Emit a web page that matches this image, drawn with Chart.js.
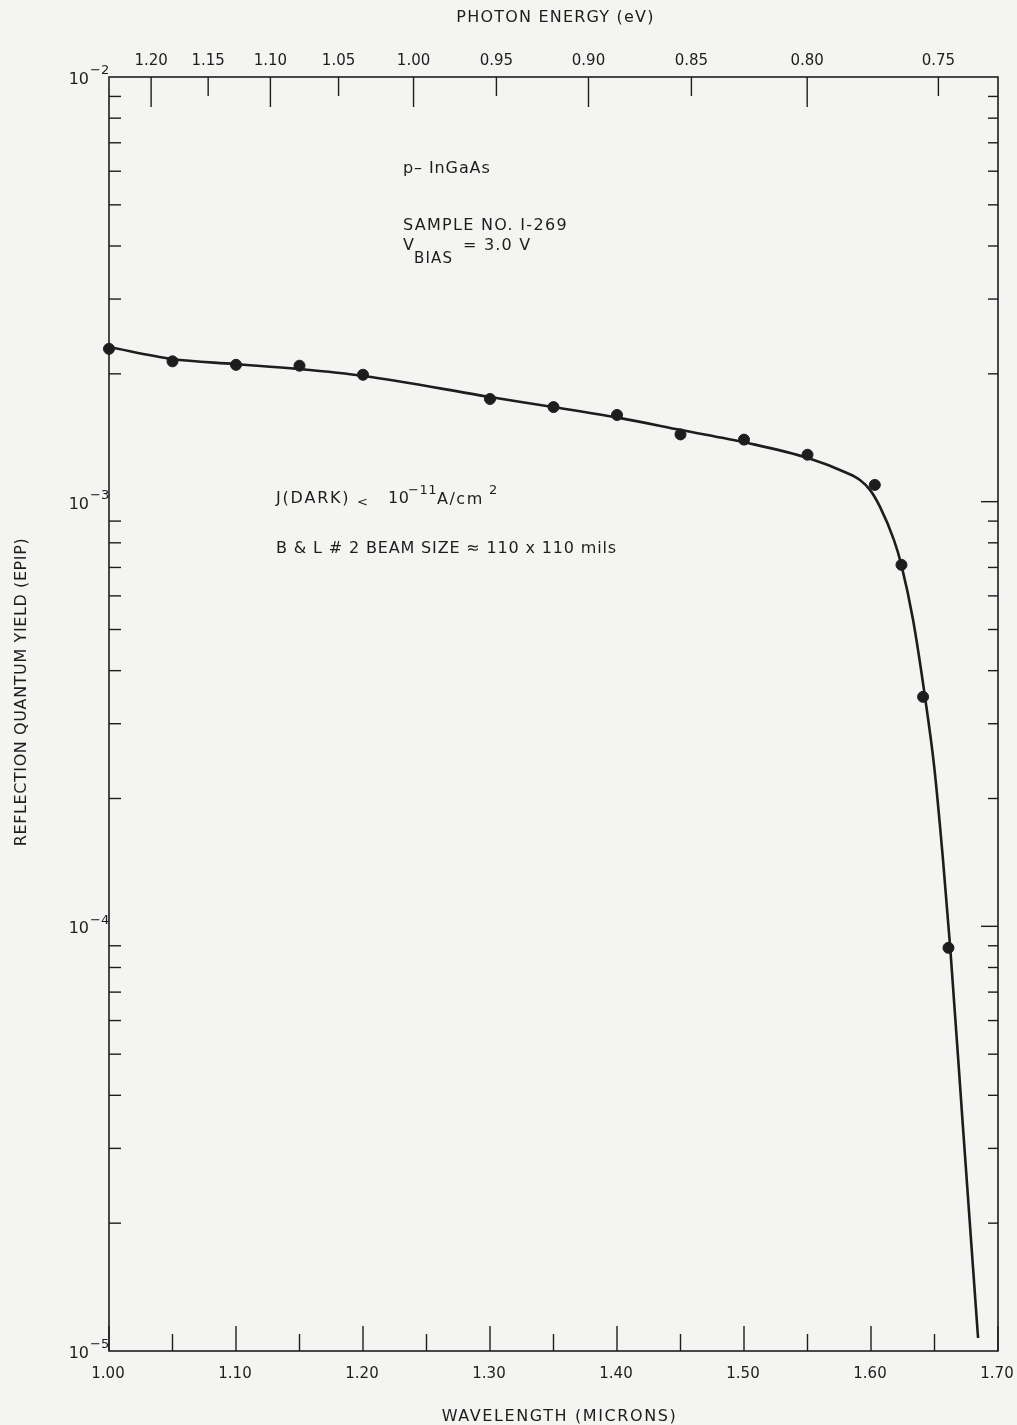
<!DOCTYPE html>
<html>
<head>
<meta charset="utf-8">
<title>Reflection Quantum Yield - p-InGaAs</title>
<script src="https://cdn.jsdelivr.net/npm/chart.js@4.4.1/dist/chart.umd.min.js"></script>
<style>
    html, body { margin: 0; padding: 0; background: #f4f4f2; }
    #grafico-wrap { width: 1017px; height: 1425px; position: relative; }
</style>
</head>
<body>
<div id="grafico-wrap"><canvas id="graficoRendimiento"></canvas></div>
<script>
// Measured points (wavelength in microns, quantum yield)
const pointWavelength = [1.00, 1.05, 1.10, 1.15, 1.20, 1.30, 1.35, 1.40, 1.45, 1.50, 1.55, 1.603, 1.624, 1.641, 1.661];
const pointYield = [2.29e-3, 2.14e-3, 2.10e-3, 2.09e-3, 1.99e-3, 1.745e-3, 1.67e-3, 1.60e-3, 1.44e-3, 1.40e-3, 1.29e-3, 1.095e-3, 7.1e-4, 3.47e-4, 8.9e-5];

// Hand drawn curve through the points
const curveWavelength = [1.000, 1.0496, 1.0984, 1.1488, 1.2008, 1.300, 1.3496, 1.4016, 1.4504, 1.5031, 1.5504, 1.5811, 1.5913, 1.5992, 1.6071, 1.6181, 1.6239, 1.6331, 1.6425, 1.6498, 1.6565, 1.6624, 1.6724, 1.6843];
const curveYield = [2.313e-3, 2.168e-3, 2.110e-3, 2.054e-3, 1.977e-3, 1.764e-3, 1.671e-3, 1.575e-3, 1.475e-3, 1.374e-3, 1.267e-3, 1.168e-3, 1.125e-3, 1.066e-3, 9.72e-4, 8.12e-4, 7.10e-4, 5.27e-4, 3.47e-4, 2.372e-4, 1.457e-4, 8.89e-5, 3.37e-5, 1.073e-5];

// Axis ticks
const wavelengthMajor = [1.00, 1.10, 1.20, 1.30, 1.40, 1.50, 1.60, 1.70];
const wavelengthMinor = [1.05, 1.15, 1.25, 1.35, 1.45, 1.55, 1.65];
const energyTicks = [1.20, 1.15, 1.10, 1.05, 1.00, 0.95, 0.90, 0.85, 0.80, 0.75];
const decadeExponents = [-2, -3, -4, -5];

const HC = 1.2398; // eV * micron
const INK = '#1d1d1d';
const FONT = '"DejaVu Sans", "Liberation Sans", sans-serif';

document.addEventListener('DOMContentLoaded', function() {
    initializeGrafico();
});

function initializeGrafico() {
    const ctx = document.getElementById('graficoRendimiento');

    new Chart(ctx, {
        type: 'line',
        data: {
            datasets: [{
                label: 'curve',
                data: curveWavelength.map((x, i) => ({ x: x, y: curveYield[i] })),
                borderColor: INK,
                borderWidth: 2.6,
                pointRadius: 0,
                cubicInterpolationMode: 'monotone',
                fill: false
            }, {
                label: 'measured',
                type: 'scatter',
                data: pointWavelength.map((x, i) => ({ x: x, y: pointYield[i] })),
                backgroundColor: INK,
                borderColor: INK,
                pointRadius: 5.5,
                clip: false
            }]
        },
        options: {
            responsive: true,
            maintainAspectRatio: false,
            animation: false,
            layout: {
                padding: { left: 109, right: 19, top: 77, bottom: 74 }
            },
            plugins: {
                legend: { display: false },
                tooltip: { enabled: false }
            },
            scales: {
                x: { type: 'linear', display: false, min: 1.0, max: 1.7 },
                y: { type: 'logarithmic', display: false, min: 1e-5, max: 1e-2 }
            }
        },
        plugins: [ejesPlugin]
    });
}

// Frame, inward ticks, labels and notes
const ejesPlugin = {
    id: 'ejes',
    afterDraw(chart) {
        const { ctx, chartArea: a, scales } = chart;
        const xs = scales.x, ys = scales.y;
        ctx.save();
        ctx.strokeStyle = INK;
        ctx.fillStyle = INK;
        ctx.lineWidth = 1.6;
        ctx.strokeRect(a.left, a.top, a.right - a.left, a.bottom - a.top);

        // bottom axis
        ctx.lineWidth = 1.4;
        wavelengthMajor.forEach(v => vTick(ctx, xs.getPixelForValue(v), a.bottom, -25));
        wavelengthMinor.forEach(v => vTick(ctx, xs.getPixelForValue(v), a.bottom, -17));
        wavelengthMajor.forEach(v => {
            text(ctx, v.toFixed(2), xs.getPixelForValue(v) - 1, a.bottom + 23, 15, 'center', 0);
        });

        // top axis (photon energy)
        energyTicks.forEach((e, i) => {
            const px = xs.getPixelForValue(HC / e);
            vTick(ctx, px, a.top, i % 2 === 0 ? 30 : 19);
            text(ctx, e.toFixed(2), px, a.top - 16, 15, 'center', 0);
        });

        // y axis ticks, both sides
        for (let d = -5; d <= -3; d++) {
            for (let m = 2; m <= 9; m++) {
                const py = ys.getPixelForValue(m * Math.pow(10, d));
                hTick(ctx, a.left, py, 12);
                hTick(ctx, a.right, py, -10);
            }
        }
        [-3, -4].forEach(d => {
            const py = ys.getPixelForValue(Math.pow(10, d));
            hTick(ctx, a.right, py, -17);
        });

        // decade labels
        decadeExponents.forEach(d => {
            const py = ys.getPixelForValue(Math.pow(10, d));
            text(ctx, '10', a.left - 20, py + 3, 16, 'right', 0);
            text(ctx, '\u2212' + Math.abs(d), a.left - 19, py - 6, 13, 'left', 0);
        });

        // axis titles
        const cx = (a.left + a.right) / 2;
        text(ctx, 'PHOTON ENERGY (eV)', cx + 2, 18, 16, 'center', 1.2);
        text(ctx, 'WAVELENGTH (MICRONS)', cx + 6, 1417, 16, 'center', 1.6);
        ctx.save();
        ctx.translate(22, 692);
        ctx.rotate(-Math.PI / 2);
        text(ctx, 'REFLECTION QUANTUM YIELD (EPIP)', 0, 0, 16, 'center', 0.6);
        ctx.restore();

        // notes
        text(ctx, 'p\u2013 InGaAs', 403, 169, 16, 'left', 0.9);
        text(ctx, 'SAMPLE NO. I-269', 403, 226, 16, 'left', 1.3);
        text(ctx, 'V', 403, 246, 16, 'left', 0);
        text(ctx, 'BIAS', 414, 259, 15, 'left', 1.2);
        text(ctx, '= 3.0 V', 463, 246, 16, 'left', 1.2);

        text(ctx, 'J(DARK)', 276, 499, 16, 'left', 1.8);
        text(ctx, '<', 357, 503, 13, 'left', 0);
        text(ctx, '10', 388, 499, 16, 'left', 0.6);
        text(ctx, '\u221211', 408, 491, 13, 'left', 0.6);
        text(ctx, 'A/cm', 437, 500, 16, 'left', 1.5);
        text(ctx, '2', 489, 491, 13, 'left', 0);
        text(ctx, 'B & L # 2 BEAM SIZE \u2248 110 x 110 mils', 276, 549, 16, 'left', 0.85);

        ctx.restore();
    }
};

function vTick(ctx, x, y, len) {
    ctx.beginPath();
    ctx.moveTo(x, y);
    ctx.lineTo(x, y + len);
    ctx.stroke();
}

function hTick(ctx, x, y, len) {
    ctx.beginPath();
    ctx.moveTo(x, y);
    ctx.lineTo(x + len, y);
    ctx.stroke();
}

function text(ctx, str, x, y, size, align, spacing) {
    ctx.font = size + 'px ' + FONT;
    ctx.letterSpacing = spacing + 'px';
    ctx.textAlign = align;
    ctx.textBaseline = 'middle';
    ctx.fillStyle = INK;
    ctx.fillText(str, x, y);
}
</script>
</body>
</html>
